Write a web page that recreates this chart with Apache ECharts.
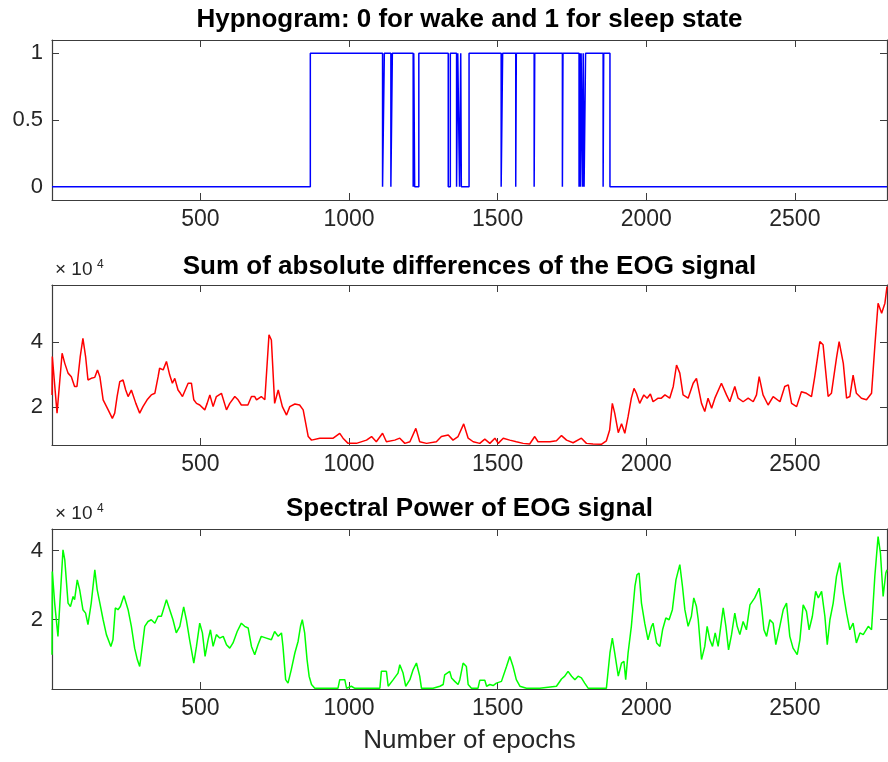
<!DOCTYPE html>
<html>
<head>
<meta charset="utf-8">
<title>Hypnogram and EOG features</title>
<script src="https://cdn.jsdelivr.net/npm/echarts@6/dist/echarts.min.js"></script>
<style>
  html, body { margin: 0; padding: 0; background: #fff; }
  #chart { width: 888px; height: 762px; }
</style>
</head>
<body>
<div id="chart"></div>
<script>
// hypnogram: epoch where the state changes and the new state (0 wake, 1 sleep)
const hypnoEpochs = [1, 870, 1113, 1119, 1141, 1146, 1216, 1218, 1221, 1235, 1334, 1341, 1362, 1366,
  1372, 1376, 1378, 1404, 1512, 1517, 1561, 1563, 1623, 1625, 1718, 1720, 1774, 1776, 1779, 1781,
  1786, 1788, 1791, 1796, 1855, 1857, 1878, 2810];
const hypnoStates = [0, 1, 0, 1, 0, 1, 0, 1, 0, 1, 0, 1, 0, 1,
  0, 1, 0, 1, 0, 1, 0, 1, 0, 1, 0, 1, 0, 1, 0, 1,
  0, 1, 0, 1, 0, 1, 0, 0];

// sum of absolute differences of the EOG signal (x10^4)
const sadEpochs = [1, 2, 18, 35, 44, 55, 61, 66, 77, 85, 96, 105, 114, 122, 133, 145, 154, 162, 173, 190,
  204, 212, 220, 229, 240, 249, 257, 268, 274, 283, 296, 307, 321, 335, 347, 358, 363, 375, 386, 397,
  406, 414, 425, 433, 440, 459, 470, 478, 487, 498, 515, 523, 532, 543, 554, 571, 588, 599, 616, 627,
  638, 660, 672, 683, 689, 705, 717, 731, 739, 750, 762, 776, 790, 801, 818, 834, 846, 863, 874, 902,
  947, 969, 980, 997, 1025, 1059, 1076, 1092, 1113, 1126, 1154, 1171, 1188, 1205, 1225, 1238, 1261, 1294, 1311, 1334,
  1350, 1367, 1386, 1401, 1418, 1440, 1457, 1474, 1491, 1502, 1519, 1541, 1563, 1586, 1608, 1625, 1636, 1653, 1676, 1698,
  1715, 1732, 1754, 1782, 1799, 1821, 1849, 1866, 1877, 1886, 1894, 1906, 1917, 1928, 1939, 1950, 1959, 1967, 1978, 1992,
  2003, 2014, 2023, 2040, 2051, 2063, 2079, 2091, 2102, 2113, 2124, 2141, 2158, 2169, 2186, 2197, 2208, 2220, 2231, 2253,
  2270, 2281, 2298, 2309, 2326, 2343, 2360, 2371, 2380, 2393, 2410, 2427, 2450, 2466, 2478, 2489, 2506, 2522, 2539, 2556,
  2567, 2584, 2595, 2612, 2623, 2640, 2649, 2663, 2674, 2685, 2696, 2707, 2724, 2741, 2758, 2769, 2780, 2792, 2803, 2810];
const sadValues = [2.38, 3.56, 1.82, 3.66, 3.35, 3.05, 3.10, 2.94, 2.64, 2.64, 3.56, 4.12, 3.56, 2.84, 2.89, 2.92, 3.15, 2.94, 2.23, 1.92,
  1.66, 1.82, 2.33, 2.79, 2.84, 2.53, 2.33, 2.53, 2.48, 2.12, 1.82, 2.02, 2.23, 2.38, 2.43, 2.94, 3.20, 3.15, 3.41, 2.99,
  2.74, 2.89, 2.53, 2.43, 2.33, 2.74, 2.74, 2.23, 2.12, 2.07, 1.92, 2.12, 2.38, 2.02, 2.33, 2.43, 1.92, 2.12, 2.33, 2.23,
  2.07, 2.07, 2.33, 2.33, 2.23, 2.33, 2.23, 4.23, 4.07, 2.12, 2.53, 2.02, 1.76, 2.02, 2.10, 2.07, 1.92, 1.10, 0.99, 1.05,
  1.05, 1.20, 1.05, 0.89, 0.89, 0.99, 1.10, 0.94, 1.20, 0.94, 0.99, 1.05, 0.89, 0.94, 1.35, 0.94, 0.89, 0.94, 1.10, 1.15,
  0.99, 1.10, 1.49, 1.05, 0.94, 0.89, 1.02, 0.89, 1.05, 0.89, 1.05, 0.99, 0.94, 0.89, 0.87, 1.10, 0.94, 0.94, 0.94, 0.97,
  1.13, 0.99, 0.91, 1.05, 0.89, 0.87, 0.86, 0.97, 1.30, 2.12, 1.82, 1.22, 1.49, 1.20, 1.71, 2.28, 2.58, 2.43, 2.12, 2.38,
  2.28, 2.41, 2.17, 2.28, 2.28, 2.38, 2.28, 2.64, 3.30, 3.05, 2.38, 2.28, 2.74, 2.89, 2.12, 1.87, 2.28, 1.97, 2.28, 2.74,
  2.38, 2.17, 2.64, 2.28, 2.17, 2.28, 2.17, 2.38, 2.94, 2.38, 2.07, 2.33, 2.17, 2.64, 2.69, 2.12, 2.02, 2.48, 2.43, 2.33,
  2.94, 4.02, 3.92, 2.33, 2.43, 3.51, 4.02, 3.35, 2.28, 2.33, 2.99, 2.43, 2.28, 2.23, 2.43, 3.87, 5.20, 4.89, 5.20, 5.71];

// spectral power of the EOG signal (x10^4)
const powEpochs = [1, 2, 10, 21, 38, 44, 55, 63, 72, 77, 86, 94, 105, 114, 122, 133, 145, 153, 162, 173,
  184, 199, 206, 214, 223, 231, 243, 257, 268, 279, 288, 296, 302, 313, 324, 335, 347, 358, 369, 386,
  397, 408, 419, 431, 444, 453, 464, 478, 487, 498, 507, 516, 526, 534, 543, 554, 565, 577, 588, 599,
  610, 624, 638, 649, 661, 672, 683, 694, 705, 722, 739, 750, 762, 773, 778, 787, 795, 806, 818, 829,
  837, 843, 851, 859, 866, 874, 885, 963, 969, 986, 992, 1008, 1020, 1059, 1104, 1109, 1126, 1132, 1149, 1165,
  1171, 1182, 1191, 1205, 1216, 1227, 1238, 1244, 1283, 1306, 1317, 1322, 1328, 1339, 1345, 1356, 1367, 1373, 1384, 1390,
  1395, 1401, 1412, 1434, 1440, 1457, 1463, 1474, 1485, 1496, 1513, 1519, 1530, 1541, 1552, 1563, 1575, 1597, 1642, 1698,
  1715, 1726, 1737, 1749, 1760, 1771, 1782, 1793, 1805, 1866, 1878, 1886, 1894, 1906, 1917, 1925, 1931, 1939, 1950, 1962,
  1969, 1976, 1984, 1995, 2006, 2018, 2023, 2035, 2046, 2055, 2066, 2077, 2088, 2100, 2113, 2122, 2130, 2141, 2152, 2160,
  2169, 2175, 2186, 2197, 2205, 2214, 2223, 2232, 2242, 2259, 2268, 2277, 2287, 2298, 2306, 2315, 2326, 2337, 2349, 2365,
  2380, 2388, 2396, 2405, 2416, 2427, 2436, 2447, 2461, 2472, 2483, 2494, 2508, 2517, 2528, 2539, 2548, 2559, 2570, 2579,
  2590, 2601, 2609, 2618, 2629, 2640, 2651, 2663, 2674, 2685, 2696, 2707, 2719, 2730, 2747, 2758, 2769, 2780, 2788, 2797,
  2806, 2810];
const powValues = [0.99, 3.39, 2.48, 1.52, 4.02, 3.73, 2.48, 2.38, 2.67, 2.58, 3.15, 2.87, 2.29, 2.19, 1.86, 2.48, 3.44, 2.87, 2.48, 2.00,
  1.57, 1.23, 1.42, 2.34, 2.29, 2.38, 2.69, 2.29, 1.81, 1.18, 0.85, 0.65, 1.04, 1.81, 1.95, 2.00, 1.90, 2.10, 2.10, 2.58,
  2.29, 2.00, 1.62, 1.81, 2.37, 2.00, 1.42, 0.75, 1.23, 1.90, 1.62, 0.94, 1.42, 1.71, 1.23, 1.57, 1.47, 1.52, 1.28, 1.18,
  1.33, 1.66, 1.90, 1.81, 1.76, 1.23, 0.99, 1.28, 1.52, 1.47, 1.42, 1.66, 1.52, 1.62, 1.23, 0.27, 0.17, 0.56, 1.04, 1.38,
  1.81, 2.00, 1.62, 0.85, 0.37, 0.13, 0.02, 0.02, 0.27, 0.27, 0.02, 0.08, 0.02, 0.02, 0.02, 0.51, 0.51, 0.08, 0.27, 0.46,
  0.70, 0.46, 0.08, 0.27, 0.56, 0.75, 0.37, 0.02, 0.02, 0.08, 0.13, 0.41, 0.46, 0.51, 0.32, 0.22, 0.13, 0.27, 0.75, 0.80,
  0.65, 0.13, 0.02, 0.02, 0.25, 0.25, 0.08, 0.13, 0.10, 0.17, 0.22, 0.27, 0.65, 0.94, 0.65, 0.27, 0.08, 0.02, 0.02, 0.08,
  0.29, 0.37, 0.51, 0.37, 0.27, 0.37, 0.32, 0.17, 0.02, 0.02, 1.04, 1.47, 1.04, 0.37, 0.75, 0.80, 0.27, 1.04, 1.81, 2.96,
  3.30, 3.35, 2.48, 1.90, 1.42, 1.81, 1.90, 1.33, 1.23, 1.71, 2.05, 2.00, 2.29, 3.15, 3.59, 2.96, 2.29, 1.81, 2.10, 2.63,
  2.38, 2.00, 0.85, 1.23, 1.81, 1.42, 1.23, 1.62, 1.23, 2.34, 1.81, 1.13, 1.57, 2.19, 1.81, 1.57, 1.95, 1.71, 2.43, 2.63,
  2.91, 2.38, 1.71, 1.52, 2.00, 1.90, 1.28, 1.71, 2.29, 2.48, 1.52, 1.18, 0.99, 1.42, 2.43, 2.24, 1.71, 2.10, 2.82, 2.63,
  2.82, 2.10, 1.28, 2.00, 2.48, 3.25, 3.65, 2.77, 2.19, 1.71, 1.90, 1.33, 1.62, 1.57, 1.81, 1.71, 3.25, 4.40, 3.92, 2.67,
  3.35, 3.44];

const epochTicks = [500, 1000, 1500, 2000, 2500];
const hypnoTicks = [0, 0.5, 1];
const eogTicks = [2, 4];

const titles = [
  'Hypnogram: 0 for wake and 1 for sleep state',
  'Sum of absolute differences of the EOG signal',
  'Spectral Power of EOG signal'
];

const FONT = '"Liberation Sans", Arial, Helvetica, sans-serif';
const AXIS_COLOR = '#3c3c3c';
const TEXT_COLOR = '#262626';
const EPOCH_MAX = 2810;

const pairs = (xs, ys) => xs.map((x, i) => [x, ys[i]]);

function xAxisFor(grid, position, name) {
  const bottom = position === 'bottom';
  return {
    type: 'value',
    gridIndex: grid,
    position: position,
    min: 1,
    max: EPOCH_MAX,
    name: bottom ? name : '',
    nameLocation: 'middle',
    nameGap: 39,
    nameTextStyle: { fontSize: 26, color: TEXT_COLOR, fontFamily: FONT },
    axisLine: { show: true, onZero: false, lineStyle: { color: AXIS_COLOR, width: 1.2 } },
    axisTick: { show: true, inside: true, length: 7, customValues: epochTicks, lineStyle: { color: AXIS_COLOR } },
    axisLabel: {
      show: bottom, customValues: epochTicks, margin: 8, fontSize: 23, color: TEXT_COLOR, fontFamily: FONT,
      formatter: v => String(v)
    },
    splitLine: { show: false }
  };
}

function yAxisFor(grid, position, min, max, ticks) {
  const left = position === 'left';
  return {
    type: 'value',
    gridIndex: grid,
    position: position,
    min: min,
    max: max,
    axisLine: { show: true, onZero: false, lineStyle: { color: AXIS_COLOR, width: 1.2 } },
    axisTick: { show: true, inside: true, length: 7, customValues: ticks, lineStyle: { color: AXIS_COLOR } },
    axisLabel: {
      show: left, customValues: ticks, margin: 9, fontSize: 22, color: TEXT_COLOR, fontFamily: FONT,
      formatter: v => String(v)
    },
    splitLine: { show: false }
  };
}

function lineSeries(index, data, color, step) {
  return {
    type: 'line',
    xAxisIndex: index * 2,
    yAxisIndex: index * 2,
    data: data,
    step: step || false,
    showSymbol: false,
    silent: true,
    lineStyle: { color: color, width: 1.5 },
    itemStyle: { color: color }
  };
}

function titleText(x, y, text) {
  return {
    type: 'text', x: x, y: y,
    style: {
      text: text, fill: '#000', fontSize: 26, fontWeight: 'bold', fontFamily: FONT,
      align: 'center', verticalAlign: 'middle', textAlign: 'center', textVerticalAlign: 'middle'
    }
  };
}

function exponentLabel(y) {
  return [
    { type: 'text', x: 55, y: y,
      style: { text: '× 10', fill: TEXT_COLOR, fontSize: 19, fontFamily: FONT,
        align: 'left', verticalAlign: 'middle', textAlign: 'left', textVerticalAlign: 'middle' } },
    { type: 'text', x: 97, y: y - 5,
      style: { text: '4', fill: TEXT_COLOR, fontSize: 12, fontFamily: FONT,
        align: 'left', verticalAlign: 'middle', textAlign: 'left', textVerticalAlign: 'middle' } }
  ];
}

const chart = echarts.init(document.getElementById('chart'));
chart.setOption({
  animation: false,
  backgroundColor: '#fff',
  grid: [
    { left: 52, right: 1, top: 40, height: 160 },
    { left: 52, right: 1, top: 285, height: 160 },
    { left: 52, right: 1, top: 529, height: 160 }
  ],
  xAxis: [
    xAxisFor(0, 'bottom'), xAxisFor(0, 'top'),
    xAxisFor(1, 'bottom'), xAxisFor(1, 'top'),
    xAxisFor(2, 'bottom', 'Number of epochs'), xAxisFor(2, 'top')
  ],
  yAxis: [
    yAxisFor(0, 'left', -0.1, 1.1, hypnoTicks), yAxisFor(0, 'right', -0.1, 1.1, hypnoTicks),
    yAxisFor(1, 'left', 0.84, 5.76, eogTicks), yAxisFor(1, 'right', 0.84, 5.76, eogTicks),
    yAxisFor(2, 'left', 0, 4.62, eogTicks), yAxisFor(2, 'right', 0, 4.62, eogTicks)
  ],
  series: [
    lineSeries(0, pairs(hypnoEpochs, hypnoStates), '#0000ff', 'end'),
    lineSeries(1, pairs(sadEpochs, sadValues), '#ff0000'),
    lineSeries(2, pairs(powEpochs, powValues), '#00ff00')
  ],
  graphic: [
    titleText(469.5, 20, titles[0]),
    titleText(469.5, 266.5, titles[1]),
    titleText(469.5, 508.5, titles[2])
  ].concat(exponentLabel(269.5), exponentLabel(514))
});
</script>
</body>
</html>
